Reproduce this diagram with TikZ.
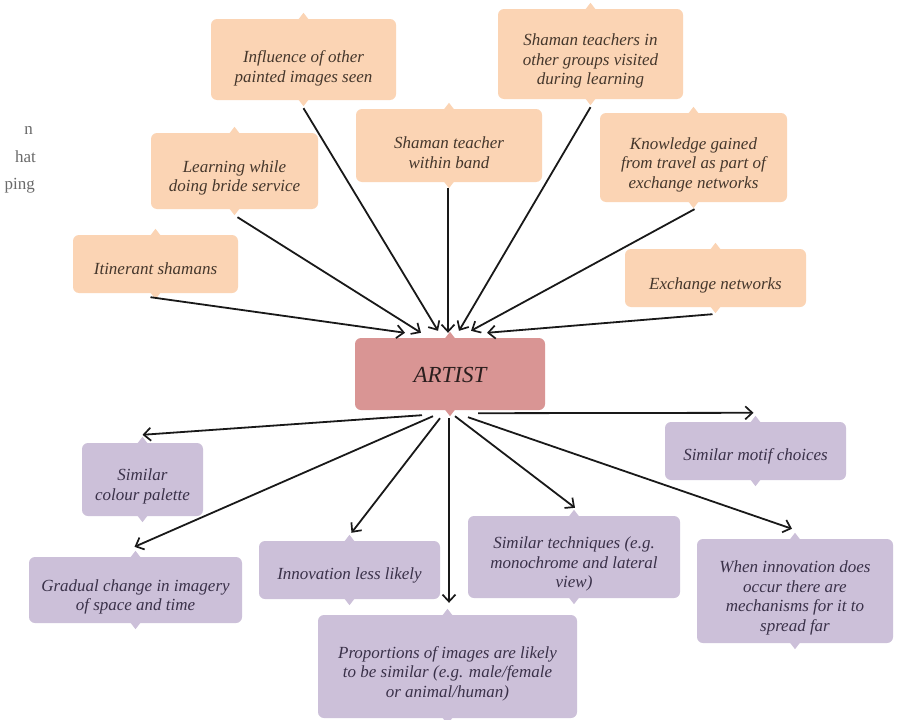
\documentclass[tikz,border=0pt]{standalone}
\usepackage{fontspec}
\setmainfont{Liberation Serif}
\usetikzlibrary{arrows.meta,calc}
\definecolor{peach}{HTML}{FBD4B4}
\definecolor{lav}{HTML}{CCC0D9}
\definecolor{rose}{HTML}{D99594}
\definecolor{toptext}{HTML}{45372C}
\definecolor{bottext}{HTML}{3A3149}
\definecolor{fragtext}{HTML}{6A6A6A}
\begin{document}
\begin{tikzpicture}[x=1pt,y=-1pt,
  peachbox/.style={fill=peach, draw=none, rounded corners=6pt, inner sep=0pt},
  lavbox/.style={fill=lav, draw=none, rounded corners=6pt, inner sep=0pt},
  rosebox/.style={fill=rose, draw=none, rounded corners=6pt, inner sep=0pt},
  ttop/.style={font=\itshape\fontsize{17}{19.5}\selectfont, align=center, text=toptext, yshift=-7pt, inner sep=0pt},
  tbot/.style={font=\itshape\fontsize{17}{19.5}\selectfont, align=center, text=bottext, yshift=-7pt, inner sep=0pt},
  frag/.style={font=\fontsize{17}{20}\selectfont, text=fragtext, anchor=base east, inner sep=0pt},
  arr/.style={draw=black!90, line width=1.8pt, -{Straight Barb[length=7pt,width=13pt,line width=1.7pt]}}]
\fill[white] (0,0) rectangle (906,720);
\useasboundingbox (0,0) rectangle (906,720);

% fragments of neighbouring page text
\node[frag] (fr1) at (33,134) {n};
\node[frag] (fr2) at (36,162) {hat};
\node[frag] (fr3) at (35,189) {ping};

% top (influence) boxes
\node[peachbox, minimum width=185pt, minimum height=81pt, label={[ttop, yshift=-2pt]center:{Influence of other\\painted images seen}}] (infl) at (303.5,59.5) {};
\node[peachbox, minimum width=167pt, minimum height=76pt, label={[ttop]center:{Learning while\\doing bride service}}] (bride) at (234.5,171) {};
\node[peachbox, minimum width=165pt, minimum height=58pt, label={[ttop, yshift=2pt]center:{Itinerant shamans}}] (itin) at (155.5,264) {};
\node[peachbox, minimum width=186pt, minimum height=73pt, label={[ttop]center:{Shaman teacher\\within band}}] (band) at (449,145.5) {};
\node[peachbox, minimum width=185pt, minimum height=90pt, label={[ttop]center:{Shaman teachers in\\other groups visited\\during learning}}] (other) at (590.5,54) {};
\node[peachbox, minimum width=187pt, minimum height=89pt, label={[ttop]center:{Knowledge gained\\from travel as part of\\exchange networks}}] (know) at (693.5,157.5) {};
\node[peachbox, minimum width=181pt, minimum height=58pt, label={[ttop]center:{Exchange networks}}] (exch) at (715.5,278) {};

% centre
\node[rosebox, minimum width=190pt, minimum height=72pt, label={[ttop, text=black!80!rose, font=\itshape\fontsize{23}{26}\selectfont, yshift=6pt]center:{ARTIST}}] (artist) at (450,374) {};

% bottom (outcome) boxes
\node[lavbox, minimum width=121pt, minimum height=73pt, label={[tbot]center:{Similar\\colour palette}}] (palette) at (142.5,479.5) {};
\node[lavbox, minimum width=213pt, minimum height=66pt, label={[tbot]center:{Gradual change in imagery\\of space and time}}] (grad) at (135.5,590) {};
\node[lavbox, minimum width=181pt, minimum height=58pt, label={[tbot, yshift=2pt]center:{Innovation less likely}}] (innov) at (349.5,570) {};
\node[lavbox, minimum width=259pt, minimum height=103pt, label={[tbot]center:{Proportions of images are likely\\to be similar (e.g. male/female\\or animal/human)}}] (prop) at (447.5,666.5) {};
\node[lavbox, minimum width=212pt, minimum height=82pt, label={[tbot]center:{Similar techniques (e.g.\\monochrome and lateral\\view)}}] (tech) at (574,557) {};
\node[lavbox, minimum width=181pt, minimum height=58pt, label={[tbot, yshift=2pt]center:{Similar motif choices}}] (motif) at (755.5,451) {};
\node[lavbox, minimum width=196pt, minimum height=104pt, label={[tbot]center:{When innovation does\\occur there are\\mechanisms for it to\\spread far}}] (spread) at (795,591) {};

% small tabs at top and bottom centre of each box
\foreach \n/\c in {infl/peach,bride/peach,itin/peach,band/peach,other/peach,know/peach,exch/peach,artist/rose,palette/lav,grad/lav,innov/lav,prop/lav,tech/lav,motif/lav,spread/lav}{
  \fill[\c] ($(\n.north)+(-5,0.5)$) -- ($(\n.north)+(0,-6)$) -- ($(\n.north)+(5,0.5)$) -- cycle;
  \fill[\c] ($(\n.south)+(-5,-0.5)$) -- ($(\n.south)+(0,6)$) -- ($(\n.south)+(5,-0.5)$) -- cycle;
}

% arrow end points on ARTIST
\coordinate (e-itin) at ($(artist.north)+(-45,-5)$);
\coordinate (e-bride) at ($(artist.north)+(-29,-5)$);
\coordinate (e-infl) at ($(artist.north)+(-12,-7)$);
\coordinate (e-band) at ($(artist.north)+(-2,-5)$);
\coordinate (e-other) at ($(artist.north)+(9,-7)$);
\coordinate (e-know) at ($(artist.north)+(21,-7)$);
\coordinate (e-exch) at ($(artist.north)+(37,-5)$);

\draw[arr] ($(itin.south)+(-5,4)$) -- (e-itin);
\draw[arr] ($(bride.south)+(3,8)$) -- (e-bride);
\draw[arr] ($(infl.south)+(0,8)$) -- (e-infl);
\draw[arr] ($(band.south)+(-1,6)$) -- (e-band);
\draw[arr] ($(other.south)+(0,8)$) -- (e-other);
\draw[arr] ($(know.south)+(1,7)$) -- (e-know);
\draw[arr] ($(exch.south)+(-3,7)$) -- (e-exch);

% arrow start points under ARTIST
\coordinate (s-palette) at ($(artist.south)+(-28,5)$);
\coordinate (s-grad) at ($(artist.south)+(-17,6)$);
\coordinate (s-innov) at ($(artist.south)+(-10,8)$);
\coordinate (s-prop) at ($(artist.south)+(-1,8)$);
\coordinate (s-tech) at ($(artist.south)+(5,6)$);
\coordinate (s-spread) at ($(artist.south)+(18,7)$);
\coordinate (s-motif) at ($(artist.south)+(28,3)$);

\draw[arr] (s-palette) -- ($(palette.north)+(0,-8)$);
\draw[arr] (s-grad) -- ($(grad.north)+(-1,-10)$);
\draw[arr] (s-innov) -- ($(innov.north)+(2,-8)$);
\draw[arr] (s-prop) -- ($(prop.north)+(1.5,-12)$);
\draw[arr] (s-tech) -- ($(tech.north)+(1,-8)$);
\draw[arr] (s-spread) -- ($(spread.north)+(-3,-10)$);
\draw[arr] (s-motif) -- ($(motif.north)+(-2,-9)$);
\end{tikzpicture}
\end{document}
